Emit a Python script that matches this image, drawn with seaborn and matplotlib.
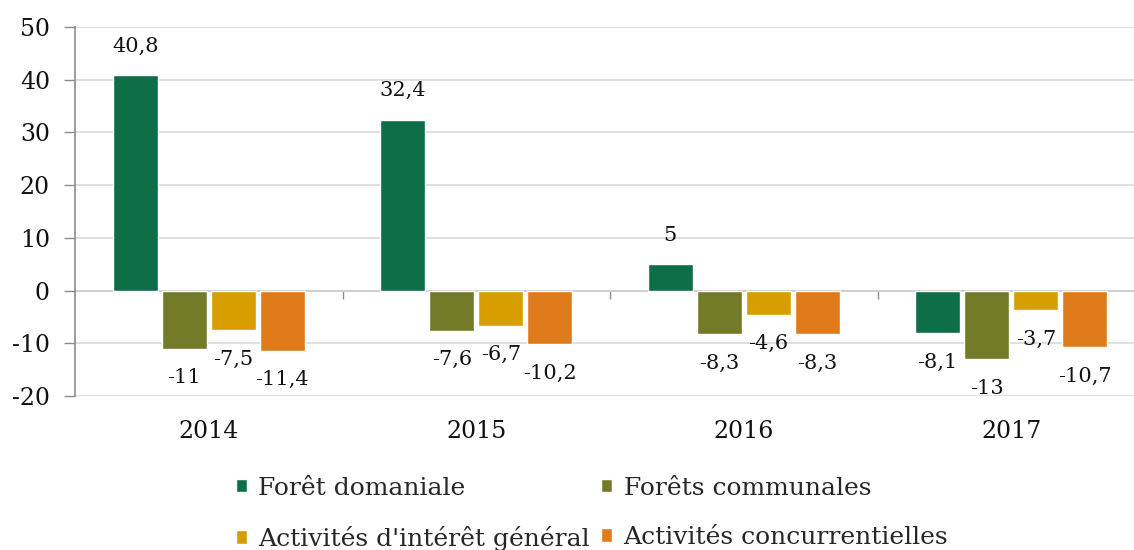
import matplotlib
matplotlib.use("Agg")
import matplotlib.pyplot as plt
import seaborn as sns
import pandas as pd

years = ["2014", "2015", "2016", "2017"]
series = ["Forêt domaniale", "Forêts communales",
          "Activités d'intérêt général", "Activités concurrentielles"]
foret_domaniale = [40.8, 32.4, 5, -8.1]
forets_communales = [-11, -7.6, -8.3, -13]
interet_general = [-7.5, -6.7, -4.6, -3.7]
concurrentielles = [-11.4, -10.2, -8.3, -10.7]
colors = ["#0d6e48", "#737b28", "#d89e00", "#e07b1c"]
y_ticks = [-20, -10, 0, 10, 20, 30, 40, 50]

values = [foret_domaniale, forets_communales, interet_general, concurrentielles]
rows = []
for s, vals in zip(series, values):
    for y, v in zip(years, vals):
        rows.append({"year": y, "series": s, "value": v})
df = pd.DataFrame(rows)

sns.set_theme(style="white")
plt.rcParams["font.family"] = ["DejaVu Serif"]

fig = plt.figure(figsize=(11.34, 5.5), dpi=100)
ax = fig.add_axes([75/1134, 1-396/550, 1070/1134, 369/550])

sns.barplot(data=df, x="year", y="value", hue="series", order=years,
            hue_order=series, palette=colors, saturation=1, width=0.733,
            gap=0.08, edgecolor="white", linewidth=1, ax=ax, legend=True,
            errorbar=None, zorder=2)

for cont, vals in zip(ax.containers, values):
    labels = [f"{v:g}".replace(".", ",") for v in vals]
    ax.bar_label(cont, labels=labels, padding=14, fontsize=15, color="#111111")

ax.set_ylim(-20, 50)
ax.set_xlim(-0.5, 3.5)
ax.set_yticks(y_ticks)
ax.set_yticklabels([str(t) for t in y_ticks], fontsize=17, color="#111111")
ax.tick_params(axis="y", direction="out", length=8, width=1, color="#8c8c8c", pad=10, left=True)
ax.tick_params(axis="x", length=0, pad=17, labelsize=17, labelcolor="#111111")
ax.set_xlabel("")
ax.set_ylabel("")
ax.yaxis.grid(True, color="#d9d9d9", linewidth=1.2, zorder=0)
ax.set_axisbelow(True)
for side in ["top", "right", "bottom"]:
    ax.spines[side].set_visible(False)
ax.spines["left"].set_color("#8c8c8c")
ax.spines["left"].set_linewidth(1.2)

zero_frac = (0 - (-20)) / 70
sec = ax.secondary_xaxis(zero_frac)
sec.set_xticks([0.5, 1.5, 2.5])
sec.set_xticklabels([])
sec.tick_params(direction="out", length=6, width=1, color="#8c8c8c")
for sp in sec.spines.values():
    sp.set_color("#8c8c8c")
    sp.set_linewidth(1.2)

handles, labels = ax.get_legend_handles_labels()
ax.legend_.remove()
order = [0, 2, 1, 3]
fig.legend([handles[i] for i in order], [labels[i] for i in order],
           loc="center", bbox_to_anchor=(0.522, 0.066),
           ncol=2, frameon=False, fontsize=18, handlelength=0.45,
           handleheight=0.45, handletextpad=0.45, columnspacing=0.45,
           labelspacing=1.05)

fig.savefig("out.png", dpi=100)
